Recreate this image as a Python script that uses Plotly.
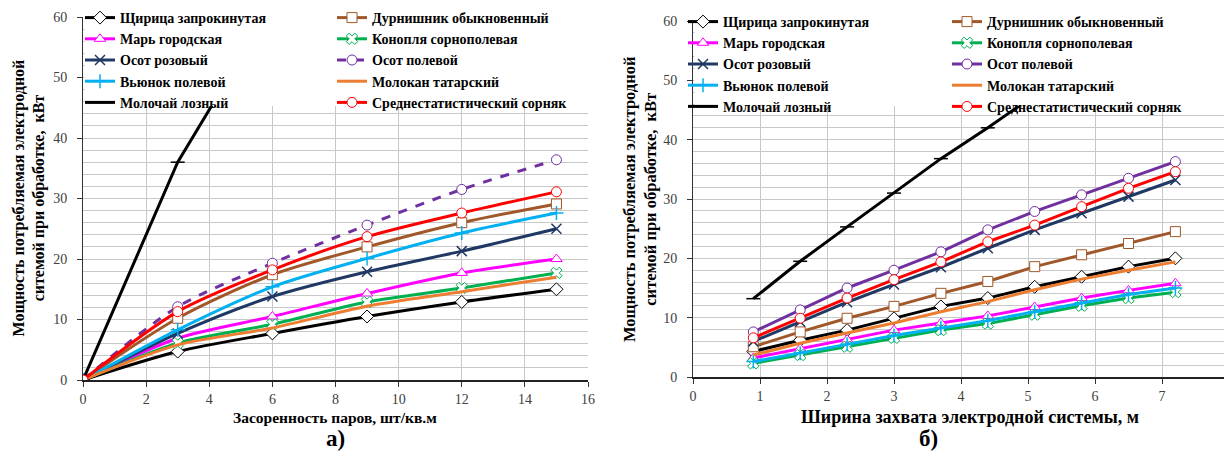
import plotly.graph_objects as go

# the page body adds an 8px offset; positions below are reference page pixels
OFF = 8
W, H = 1232 - OFF, 461 - OFF


def X(px):
    return (px - OFF) / W


def Y(py):
    return 1 - (py - OFF) / H


names = ["Щирица запрокинутая", "Дурнишник обыкновенный", "Марь городская",
         "Конопля сорнополевая", "Осот розовый", "Осот полевой",
         "Вьюнок полевой", "Молокан татарский", "Молочай лозный",
         "Среднестатистический сорняк"]

# ---- chart a): weed infestation (pcs per sq.m) vs power, kW
x_a = [0, 3, 6, 9, 12, 15]
a_shchiritsa = [0, 4.7, 7.7, 10.5, 12.9, 15.0]
a_durnishnik = [0, 10.2, 17.4, 22.0, 26.0, 29.1]
a_mar = [0, 6.9, 10.5, 14.3, 17.7, 20.0]
a_konoplya = [0, 6.1, 9.2, 12.9, 15.2, 17.7]
a_osot_roz = [0, 7.7, 13.8, 17.9, 21.3, 25.0]
a_osot_pol = [0, 12.1, 19.3, 25.6, 31.5, 36.4]
a_vyunok = [0, 8.3, 15.4, 20.1, 24.3, 27.6]
a_molokan = [0, 5.8, 8.6, 12.2, 14.6, 17.0]
x_a_molochai = [0, 3, 6]
a_molochai = [0, 36.0, 62.0]
a_sredn = [0, 11.3, 18.2, 23.7, 27.6, 31.1]

# ---- chart б): working width, m vs power, kW
x_b = [0.9, 1.6, 2.3, 3.0, 3.7, 4.4, 5.1, 5.8, 6.5, 7.2]
b_shchiritsa = [4.3, 6.2, 7.9, 9.9, 11.9, 13.3, 15.2, 16.9, 18.6, 20.0]
b_durnishnik = [5.1, 7.6, 9.9, 11.9, 14.1, 16.1, 18.6, 20.6, 22.5, 24.5]
b_mar = [3.2, 4.8, 6.3, 7.9, 9.1, 10.3, 11.8, 13.3, 14.6, 15.8]
b_konoplya = [2.3, 3.7, 5.1, 6.6, 7.9, 9.0, 10.5, 12.0, 13.3, 14.3]
b_osot_roz = [6.0, 9.3, 12.6, 15.6, 18.5, 21.7, 24.8, 27.6, 30.4, 33.2]
b_osot_pol = [7.6, 11.3, 15.0, 18.0, 21.1, 24.8, 27.9, 30.7, 33.5, 36.3]
b_vyunok = [2.6, 4.0, 5.5, 7.0, 8.3, 9.5, 11.0, 12.5, 13.9, 15.0]
b_molokan = [3.7, 5.7, 7.4, 9.1, 11.0, 12.7, 14.7, 16.5, 18.0, 19.4]
x_b_molochai = [0.9, 1.6, 2.3, 3.0, 3.7, 4.4, 5.1]
b_molochai = [13.2, 19.5, 25.3, 31.0, 36.8, 42.0, 47.5]
b_sredn = [6.6, 9.9, 13.3, 16.4, 19.4, 22.8, 25.6, 28.7, 31.8, 34.6]

colors = ["#000000", "#a0582a", "#ff00ff", "#00b050", "#203864",
          "#7030a0", "#00b0f0", "#ed7d31", "#000000", "#ff0000"]
symbols = ["diamond", "square", "triangle-up", "x", "x-thin",
           "circle", "cross-thin", None, "line-ew", "circle"]

series_a = [(x_a, a_shchiritsa), (x_a, a_durnishnik), (x_a, a_mar), (x_a, a_konoplya),
            (x_a, a_osot_roz), (x_a, a_osot_pol), (x_a, a_vyunok), (x_a, a_molokan),
            (x_a_molochai, a_molochai), (x_a, a_sredn)]
series_b = [(x_b, b_shchiritsa), (x_b, b_durnishnik), (x_b, b_mar), (x_b, b_konoplya),
            (x_b, b_osot_roz), (x_b, b_osot_pol), (x_b, b_vyunok), (x_b, b_molokan),
            (x_b_molochai, b_molochai), (x_b, b_sredn)]

fig = go.Figure()


def marker_for(i):
    sym = symbols[i]
    if sym is None:
        return dict(size=1, opacity=0)
    if sym in ("x-thin", "cross-thin", "line-ew"):
        return dict(symbol=sym, size=10, color=colors[i],
                    line=dict(color=colors[i], width=1.5))
    return dict(symbol=sym, size=10, color="white",
                line=dict(color=colors[i], width=1))


for panel, series, xa, ya, legs in [
        ("a", series_a, "x", "y", ("legend", "legend2")),
        ("b", series_b, "x2", "y2", ("legend3", "legend4"))]:
    for i in range(10):
        xs, ys = series[i]
        dash = "dash" if (panel == "a" and i == 5) else "solid"
        shape = "spline" if (panel == "a" and i != 8) else "linear"
        mode = "lines" if symbols[i] is None else "lines+markers"
        fig.add_trace(go.Scatter(
            x=xs, y=ys, name=names[i], mode=mode,
            line=dict(color=colors[i], width=3, dash=dash, shape=shape,
                      smoothing=0.8),
            marker=marker_for(i),
            xaxis=xa, yaxis=ya, legend=legs[i % 2], showlegend=True))

serif = "Liberation Serif, Times New Roman, DejaVu Serif, serif"
tick_font = dict(family=serif, size=14, color="#404040")
grid = "#c8c8c8"

common_x = dict(showline=True, linecolor="#222", linewidth=1.5, ticks="outside",
                ticklen=5, tickcolor="#333", showgrid=True, gridcolor=grid,
                gridwidth=1, zeroline=False, tickfont=tick_font, automargin=False)
common_y = dict(showline=True, linecolor="#333", linewidth=1, ticks="outside",
                ticklen=5, tickcolor="#333", showgrid=True, gridcolor=grid,
                gridwidth=1, zeroline=False, tickfont=tick_font, dtick=10,
                range=[0, 60], ticklabelstandoff=7, automargin=False,
                minor=dict(dtick=2, showgrid=True, gridcolor=grid, gridwidth=1))

xa_dom = [X(83), X(588)]
xb_dom = [X(693), X(1229)]
ya_dom = [Y(380), Y(17)]
yb_dom = [Y(377), Y(21)]


def leg(text_px, row1_px):
    # legend text starts 40px right of its left edge; first row centre ~15px below top
    return dict(orientation="v", x=X(text_px - 40), xanchor="left",
                y=Y(row1_px - 15), yanchor="top", bgcolor="rgba(0,0,0,0)",
                font=dict(family=serif, size=14, color="black", weight="bold"),
                itemwidth=30, traceorder="normal", tracegroupgap=0, borderwidth=0)


# white panel behind the legends, hiding the grid in the top part of each plot
shapes = [
    dict(type="rect", xref="paper", yref="paper", layer="above",
         x0=X(84.5), x1=X(588), y0=Y(106), y1=ya_dom[1],
         fillcolor="white", line=dict(width=0)),
    dict(type="rect", xref="paper", yref="paper", layer="above",
         x0=X(694.5), x1=X(1229), y0=Y(106), y1=yb_dom[1],
         fillcolor="white", line=dict(width=0)),
]

fig.update_layout(
    width=W, height=H,
    margin=dict(l=0, r=0, t=0, b=0, autoexpand=False),
    paper_bgcolor="white", plot_bgcolor="white",
    showlegend=True,
    xaxis=dict(common_x, domain=xa_dom, range=[0, 16], dtick=2, anchor="y"),
    yaxis=dict(common_y, domain=ya_dom, anchor="x"),
    xaxis2=dict(common_x, domain=xb_dom, range=[0, 8], dtick=1, anchor="y2"),
    yaxis2=dict(common_y, domain=yb_dom, anchor="x2"),
    legend=leg(120, 17), legend2=leg(372, 17),
    legend3=leg(723, 21), legend4=leg(987, 21),
    shapes=shapes,
)

ann = []
for xpix, ymid, fs in [(29, (ya_dom[0] + ya_dom[1]) / 2, 16),
                       (640, (yb_dom[0] + yb_dom[1]) / 2, 16.5)]:
    ann.append(dict(text="Мощность потребляемая электродной<br>ситемой при обработке,  кВт",
                    x=X(xpix), y=ymid, xref="paper", yref="paper",
                    textangle=-90, showarrow=False,
                    font=dict(family=serif, size=fs, color="black", weight="bold"),
                    xanchor="center", yanchor="middle"))
ann.append(dict(text="Засоренность паров, шт/кв.м", x=X(335), y=Y(417),
                xref="paper", yref="paper", showarrow=False,
                font=dict(family=serif, size=15.5, color="black", weight="bold"),
                xanchor="center", yanchor="middle"))
ann.append(dict(text="Ширина захвата электродной системы, м", x=X(970), y=Y(417),
                xref="paper", yref="paper", showarrow=False,
                font=dict(family=serif, size=18, color="black", weight="bold"),
                xanchor="center", yanchor="middle"))
ann.append(dict(text="а)", x=X(335), y=Y(438), xref="paper", yref="paper",
                showarrow=False, xanchor="center", yanchor="middle",
                font=dict(family=serif, size=23, color="black", weight="bold")))
ann.append(dict(text="б)", x=X(928), y=Y(438), xref="paper", yref="paper",
                showarrow=False, xanchor="center", yanchor="middle",
                font=dict(family=serif, size=23, color="black", weight="bold")))
fig.update_layout(annotations=ann)

fig.write_html("out.html")
